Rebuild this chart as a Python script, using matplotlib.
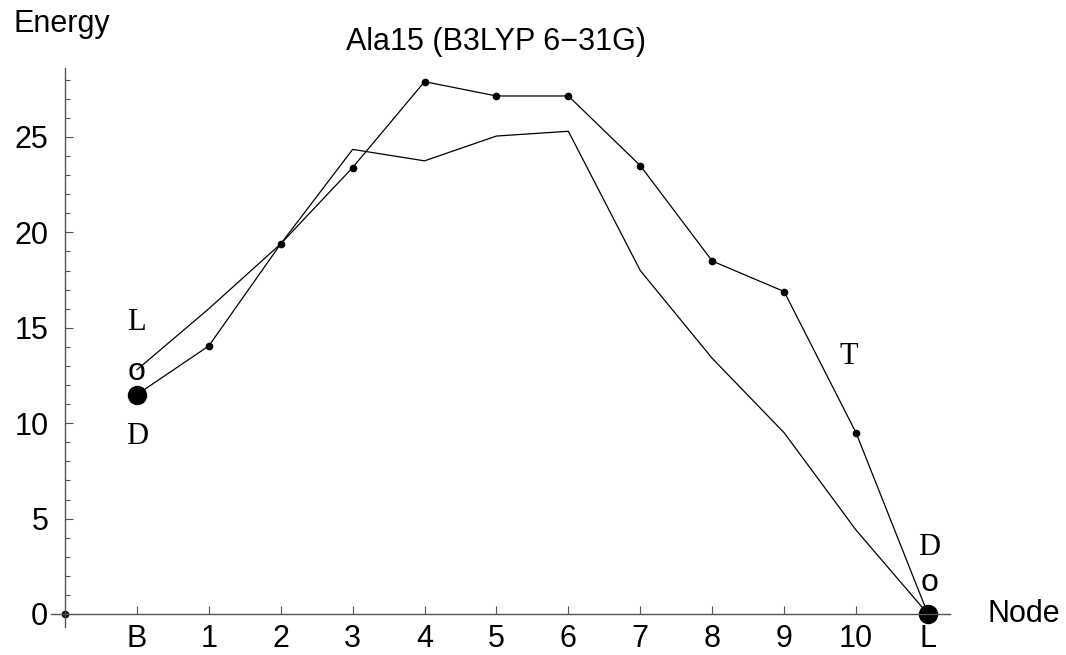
import numpy as np
import matplotlib.pyplot as plt
from matplotlib.ticker import FixedLocator

plt.rcParams['font.family'] = ['Liberation Sans', 'DejaVu Sans']

# data
nodes = np.arange(1, 13)
node_labels = ['B', '1', '2', '3', '4', '5', '6', '7', '8', '9', '10', 'L']
energy_dots = [11.5, 14.05, 19.4, 23.4, 27.9, 27.15, 27.15, 23.5, 18.5, 16.9, 9.5, 0.0]
energy_line = [12.8, 16.0, 19.4, 24.35, 23.75, 25.05, 25.3, 18.0, 13.4, 9.5, 4.4, 0.0]

# text marks: (x, y, text, serif?)
notes_x = [1, 1, 1, 10.9, 12.02, 12.02]
notes_y = [15.3, 12.7, 9.3, 13.5, 3.5, 1.6]
notes_txt = ['L', 'o', 'D', 'T', 'D', 'o']
notes_serif = [True, False, True, True, True, False]

fig = plt.figure(figsize=(10.66, 6.55), dpi=100)
ax = fig.add_axes([0, 0, 1, 1])
ax.set_xlim(-0.904, 13.92)
ax.set_ylim(-2.149, 32.18)

ax.plot(nodes, energy_line, color='black', lw=0.9)
ax.plot(nodes, energy_dots, color='black', lw=0.9, marker='o', ms=4.5)
ax.plot([nodes[0]], [energy_dots[0]], 'ko', ms=13)
ax.plot([nodes[-1]], [energy_dots[-1]], 'ko', ms=13, clip_on=False)
ax.plot([0], [0], 'ko', ms=4.5)

for x, y, t, s in zip(notes_x, notes_y, notes_txt, notes_serif):
    if s:
        ax.text(x, y, t, ha='center', va='center', fontsize=22, family=['Liberation Serif'])
    else:
        ax.text(x, y, t, ha='center', va='center', fontsize=23, family=['Liberation Sans'])

# axes through origin
for side in ['top', 'right']:
    ax.spines[side].set_visible(False)
ax.spines['left'].set_position(('data', 0))
ax.spines['bottom'].set_position(('data', 0))
ax.spines['left'].set_bounds(-0.7, 28.6)
ax.spines['bottom'].set_bounds(-0.2, 12.3)
for side in ['left', 'bottom']:
    ax.spines[side].set_color('#555555')
    ax.spines[side].set_linewidth(1.0)

ax.set_xticks(nodes)
ax.set_xticklabels(node_labels)
ax.set_yticks([0, 5, 10, 15, 20, 25])
ax.yaxis.set_minor_locator(FixedLocator(np.arange(0, 29)))
ax.tick_params(which='major', direction='in', length=6, width=0.8, color='#555555',
               labelsize=22)
ax.tick_params(which='minor', direction='in', length=3.5, width=0.8, color='#555555')
ax.tick_params(axis='x', pad=7)
ax.tick_params(axis='y', pad=12)

ax.text(-0.04, 30.9, 'Energy', ha='center', va='center', fontsize=22)
ax.text(13.33, 0, 'Node', ha='center', va='center', fontsize=22)
ax.text(6, 30.0, 'Ala15 (B3LYP 6\u221231G)', ha='center', va='center', fontsize=22)

fig.savefig('out.png', dpi=100)
